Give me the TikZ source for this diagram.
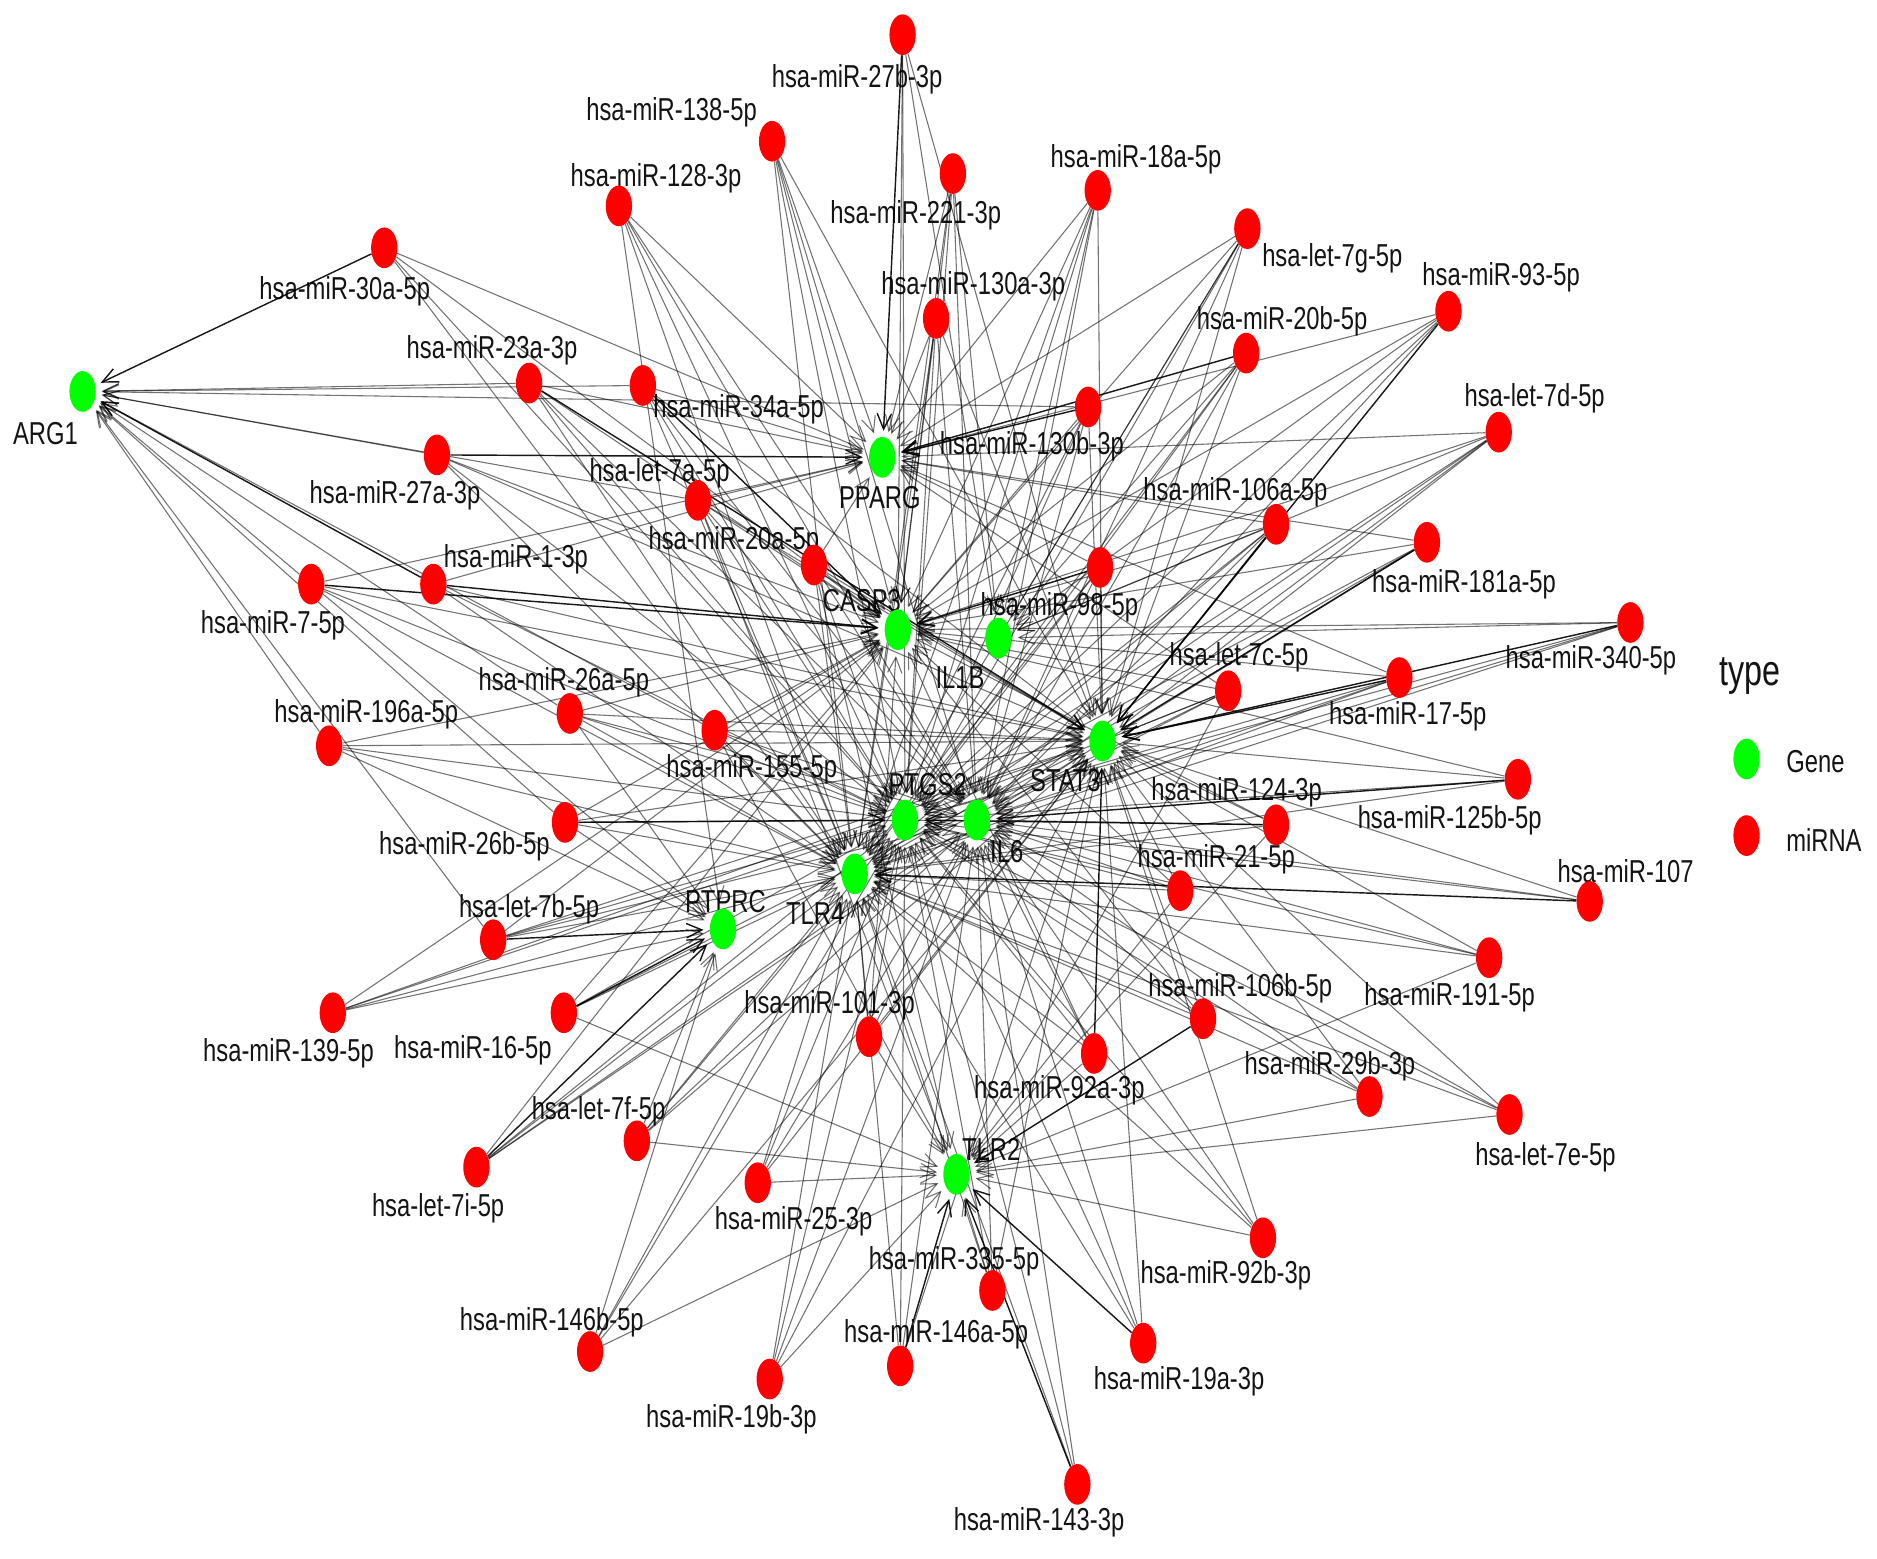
\documentclass[tikz,border=0pt]{standalone}
\usepackage{fontspec}
\setmainfont{Liberation Sans}
\usetikzlibrary{arrows.meta,shapes.geometric}
\pgfdeclarelayer{bg}
\pgfdeclarelayer{lbl}
\pgfdeclarelayer{edges}
\pgfsetlayers{bg,lbl,edges,main}
\newcommand\cz[1]{\scalebox{0.75}[1]{#1}}
\tikzset{
  dot/.style={ellipse, minimum width=22pt, minimum height=34pt, inner sep=0pt, draw=none},
  mirdot/.style={dot, fill=red},
  genedot/.style={dot, fill=green},
  lbl/.style={font=\fontsize{26.5}{30}\selectfont, text=black!92, inner sep=0pt},
  e/.style={draw=black, draw opacity=0.55, line width=0.9pt, -{Straight Barb[length=13pt,width=12pt]}, shorten >=5pt},
  ed/.style={e, draw opacity=0.9, line width=1.2pt},
}
\newcommand\addmir[6]{\node[mirdot] (#1) at (#2,#3) {};
  \begin{pgfonlayer}{lbl}\node[lbl] (#1t) at (#4,#5) {\cz{#6}};\end{pgfonlayer}}
\newcommand\addgene[6]{\node[genedot] (#1) at (#2,#3) {};
  \begin{pgfonlayer}{lbl}\node[lbl] (#1t) at (#4,#5) {\cz{#6}};\end{pgfonlayer}}
\begin{document}
\begin{tikzpicture}[x=1pt,y=-1pt]
\begin{pgfonlayer}{bg}
\fill[white] (0,0) rectangle (1568,1302);
\end{pgfonlayer}
\useasboundingbox (0,0) rectangle (1568,1302);
% genes
\addgene{gA}{69}{327}{38}{362}{ARG1}
\addgene{gP}{737}{382}{735}{416}{PPARG}
\addgene{gC}{750}{526}{720}{502}{CASP3}
\addgene{gB}{834}{533}{802}{566}{IL1B}
\addgene{gS}{921}{619}{890}{652}{STAT3}
\addgene{gG}{756}{685}{775}{655}{PTGS2}
\addgene{gI}{816}{685}{841}{711}{IL6}
\addgene{gT}{714}{730}{681}{763}{TLR4}
\addgene{gR}{604}{776}{606}{753}{PTPRC}
\addgene{gL}{799}{981}{828}{960}{TLR2}
% miRNAs
\addmir{m27b}{754}{29}{716}{66}{hsa-miR-27b-3p}
\addmir{m138}{645}{118}{561}{94}{hsa-miR-138-5p}
\addmir{m221}{796}{145}{765}{180}{hsa-miR-221-3p}
\addmir{m18a}{917}{159}{949}{133}{hsa-miR-18a-5p}
\addmir{m128}{517}{172}{548}{149}{hsa-miR-128-3p}
\addmir{m7g}{1042}{191}{1113}{216}{hsa-let-7g-5p}
\addmir{m30a}{321}{207}{288}{243}{hsa-miR-30a-5p}
\addmir{m93}{1210}{260}{1254}{232}{hsa-miR-93-5p}
\addmir{m130a}{782}{266}{813}{239}{hsa-miR-130a-3p}
\addmir{m20b}{1041}{295}{1071}{268}{hsa-miR-20b-5p}
\addmir{m23a}{442}{320}{411}{293}{hsa-miR-23a-3p}
\addmir{m34a}{537}{322}{617}{342}{hsa-miR-34a-5p}
\addmir{m130b}{909}{340}{862}{373}{hsa-miR-130b-3p}
\addmir{m7d}{1252}{361}{1282}{333}{hsa-let-7d-5p}
\addmir{m27a}{365}{380}{330}{414}{hsa-miR-27a-3p}
\addmir{m7a}{583}{418}{551}{395}{hsa-let-7a-5p}
\addmir{m106a}{1066}{438}{1032}{411}{hsa-miR-106a-5p}
\addmir{m20a}{680}{472}{613}{452}{hsa-miR-20a-5p}
\addmir{m181a}{1192}{453}{1223}{488}{hsa-miR-181a-5p}
\addmir{m1}{362}{488}{431}{467}{hsa-miR-1-3p}
\addmir{m7}{260}{488}{228}{522}{hsa-miR-7-5p}
\addmir{m98}{919}{474}{885}{507}{hsa-miR-98-5p}
\addmir{m340}{1362}{520}{1329}{552}{hsa-miR-340-5p}
\addmir{m7c}{1026}{577}{1035}{549}{hsa-let-7c-5p}
\addmir{m17}{1169}{566}{1176}{598}{hsa-miR-17-5p}
\addmir{m26a}{476}{596}{471}{570}{hsa-miR-26a-5p}
\addmir{m196a}{275}{623}{306}{597}{hsa-miR-196a-5p}
\addmir{m155}{597}{610}{628}{643}{hsa-miR-155-5p}
\addmir{m125b}{1268}{651}{1211}{685}{hsa-miR-125b-5p}
\addmir{m124}{1066}{689}{1033}{662}{hsa-miR-124-3p}
\addmir{m26b}{472}{687}{388}{707}{hsa-miR-26b-5p}
\addmir{m21}{986}{744}{1016}{718}{hsa-miR-21-5p}
\addmir{m107}{1328}{753}{1358}{728}{hsa-miR-107}
\addmir{m7b}{412}{785}{442}{760}{hsa-let-7b-5p}
\addmir{m139}{278}{846}{241}{880}{hsa-miR-139-5p}
\addmir{m16}{471}{846}{395}{877}{hsa-miR-16-5p}
\addmir{m101}{726}{866}{693}{840}{hsa-miR-101-3p}
\addmir{m106b}{1005}{851}{1036}{826}{hsa-miR-106b-5p}
\addmir{m191}{1244}{800}{1211}{833}{hsa-miR-191-5p}
\addmir{m92a}{914}{880}{885}{911}{hsa-miR-92a-3p}
\addmir{m29b}{1144}{916}{1111}{891}{hsa-miR-29b-3p}
\addmir{m7e}{1261}{931}{1291}{967}{hsa-let-7e-5p}
\addmir{m7f}{532}{953}{500}{928}{hsa-let-7f-5p}
\addmir{m7i}{398}{975}{366}{1009}{hsa-let-7i-5p}
\addmir{m25}{633}{988}{663}{1020}{hsa-miR-25-3p}
\addmir{m92b}{1055}{1034}{1024}{1065}{hsa-miR-92b-3p}
\addmir{m335}{829}{1078}{797}{1054}{hsa-miR-335-5p}
\addmir{m146b}{493}{1129}{461}{1105}{hsa-miR-146b-5p}
\addmir{m146a}{752}{1141}{782}{1115}{hsa-miR-146a-5p}
\addmir{m19a}{955}{1122}{985}{1154}{hsa-miR-19a-3p}
\addmir{m19b}{643}{1152}{611}{1186}{hsa-miR-19b-3p}
\addmir{m143}{900}{1240}{868}{1272}{hsa-miR-143-3p}
% edges
\begin{pgfonlayer}{edges}
\foreach \m/\gl in {
 m27b/{gC,gB,gS,gG}, m138/{gP,gC,gT,gG,gI,gS}, m221/{gP,gC,gB,gG,gI,gT},
 m18a/{gS,gP,gC,gG,gI,gT,gB}, m128/{gP,gC,gG,gT,gI,gR}, m7g/{gP,gC,gB,gS,gG,gI,gT},
 m30a/{gP,gC,gG,gT}, m93/{gP,gC,gG,gI,gB}, m130a/{gP,gC,gG,gT,gI,gS},
 m20b/{gC,gS,gG,gI,gT,gB}, m23a/{gA,gP,gC,gG,gT,gI}, m34a/{gA,gP,gS,gG,gI,gT},
 m130b/{gA,gC,gG,gI,gS,gT}, m7d/{gP,gC,gS,gG,gI,gT,gB}, m27a/{gA,gG,gC,gT,gS},
 m7a/{gA,gP,gC,gS,gG,gI,gT,gL}, m106a/{gP,gC,gG,gI,gT,gB}, m20a/{gP,gC,gS,gG,gT,gL,gI},
 m181a/{gC,gG,gI,gP,gT}, m1/{gP,gS,gG,gT}, m7/{gA,gP,gS,gG,gT,gR},
 m98/{gS,gP,gG,gI,gT}, m340/{gC,gG,gI,gB,gT}, m7c/{gS,gC,gG,gI,gT,gP,gL},
 m17/{gC,gG,gI,gT,gP}, m26a/{gA,gC,gG,gT,gS,gI,gR}, m196a/{gA,gS,gC,gG,gT,gR},
 m155/{gA,gS,gC,gG,gI,gT,gL}, m125b/{gS,gG,gT,gC}, m124/{gS,gI,gT,gC,gL},
 m26b/{gT,gS,gC,gI,gA,gR}, m21/{gS,gG,gI,gT,gC,gL}, m107/{gS,gG,gI},
 m7b/{gT,gG,gS,gC,gI,gA}, m139/{gR,gT,gG,gS,gC}, m16/{gT,gG,gS,gC,gL},
 m101/{gS,gG,gI,gT,gC,gL}, m106b/{gS,gG,gI,gT,gC}, m191/{gS,gG,gI,gT,gL},
 m92a/{gG,gI,gT,gL,gC}, m29b/{gS,gG,gI,gT,gL}, m7e/{gS,gG,gI,gT,gL},
 m7f/{gT,gG,gS,gR,gL,gI}, m7i/{gT,gG,gS,gC,gI}, m25/{gL,gG,gT,gS,gI},
 m92b/{gL,gG,gS,gT,gI}, m335/{gL,gG,gI,gT,gS}, m146b/{gT,gG,gR,gS,gL},
 m146a/{gT,gG,gI,gS}, m19a/{gG,gI,gT,gS}, m19b/{gL,gT,gG,gI,gS},
 m143/{gG,gI,gT}}
 {\foreach \g in \gl {\draw[e] (\m) -- (\g);}}
\foreach \m/\g in {m30a/gA, m27a/gP, m130b/gP, m27b/gP, m20b/gP, m26b/gG, m7i/gR,
 m16/gR, m7b/gR, m107/gT, m340/gS, m17/gS, m1/gC, m1/gA, m7/gC, m34a/gC, m23a/gS,
 m92a/gS, m124/gG, m125b/gI, m106b/gL, m143/gL, m19a/gL, m146a/gL, m181a/gS,
 m106a/gS, m93/gS, m98/gC}
 {\draw[ed] (\m) -- (\g);}
\end{pgfonlayer}
% legend
\node[lbl, font=\fontsize{36}{40}\selectfont] (ltype) at (1462,565) {\cz{type}};
\node[genedot] (lgd) at (1459,634) {};
\node[lbl, anchor=west] (lgt) at (1492,636) {\cz{Gene}};
\node[mirdot] (lmd) at (1459,698) {};
\node[lbl, anchor=west] (lmt) at (1492,702) {\cz{miRNA}};
\end{tikzpicture}
\end{document}
